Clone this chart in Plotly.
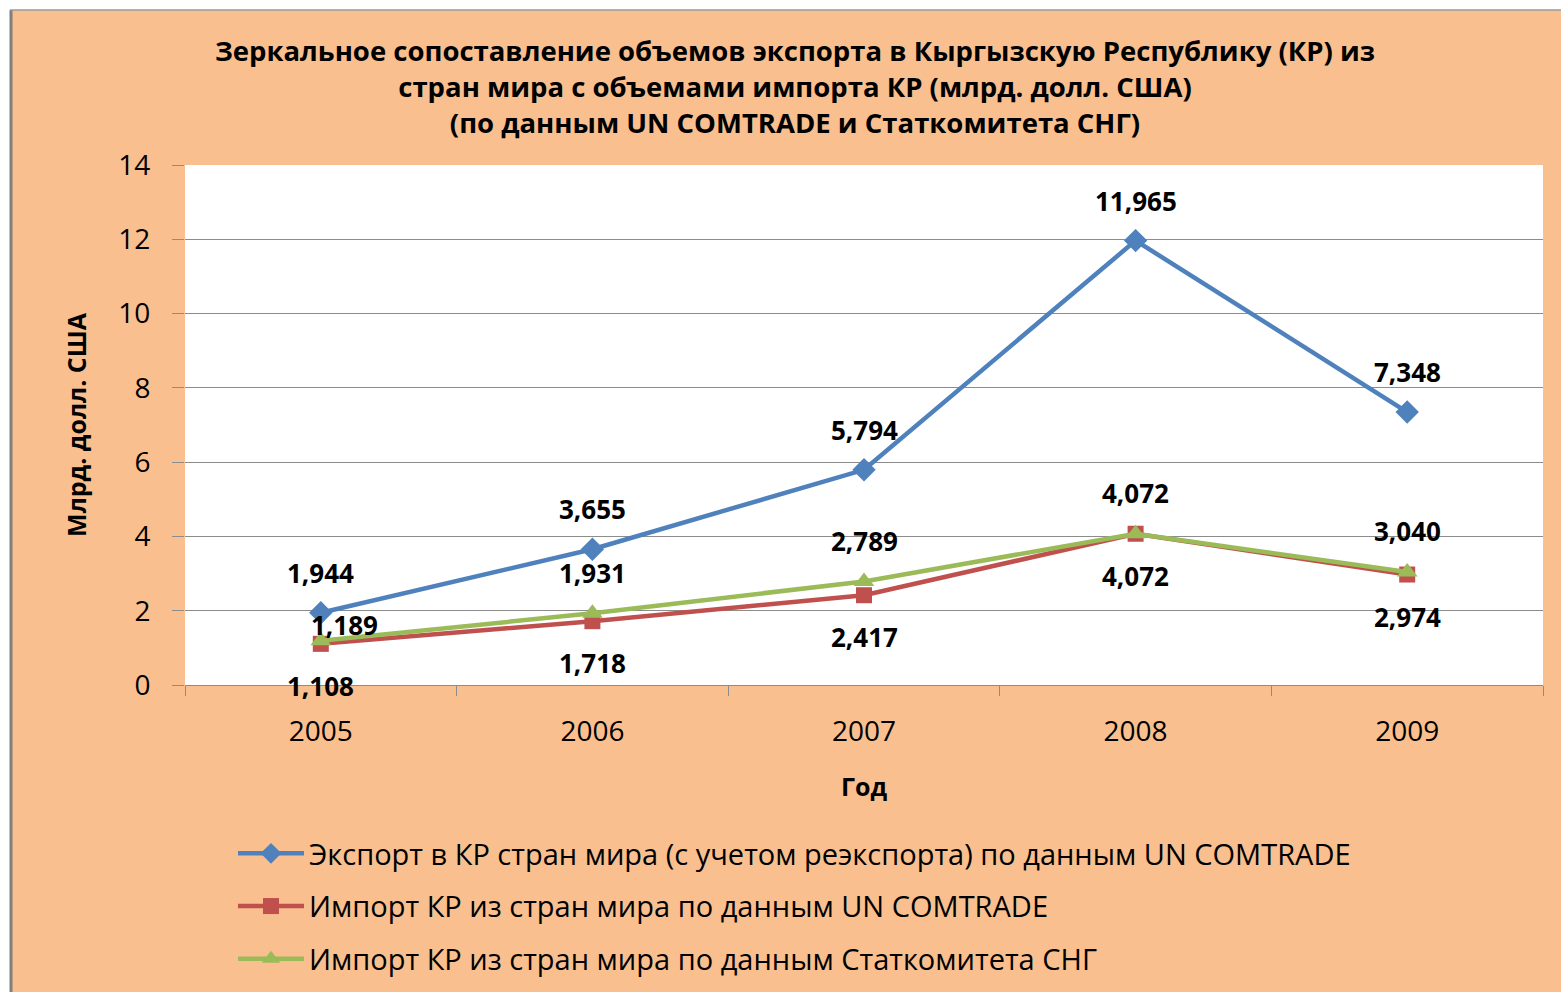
import plotly.graph_objects as go

years = ["2005", "2006", "2007", "2008", "2009"]
export_un = [1.944, 3.655, 5.794, 11.965, 7.348]
import_un = [1.108, 1.718, 2.417, 4.072, 2.974]
import_cis = [1.189, 1.931, 2.789, 4.072, 3.040]
y_ticks = [0, 2, 4, 6, 8, 10, 12, 14]

names = [
    "Экспорт в КР стран мира (с учетом реэкспорта) по данным UN COMTRADE",
    "Импорт КР из стран мира по данным UN COMTRADE",
    "Импорт КР из стран мира по данным Статкомитета СНГ",
]
title_text = ("Зеркальное сопоставление объемов экспорта в Кыргызскую Республику (КР) из<br>"
              "стран мира с объемами импорта КР (млрд. долл. США)<br>"
              "(по данным UN COMTRADE и Статкомитета СНГ)")

BLUE = "#4F81BD"
RED = "#C0504D"
GREEN = "#9BBB59"
BG = "#F9BF8F"
GRID = "#8C8C8C"
FONT = "Open Sans"

W, H = 1561, 992
ML, MR, MT, MB = 185, 18, 165, 307
PW, PH = W - ML - MR, H - MT - MB


def px_x(px):
    return (px - ML) / PW


def px_y(py):
    return (H - MB - py) / PH


fig = go.Figure()
series = [
    (export_un, names[0], BLUE, "diamond", 18),
    (import_un, names[1], RED, "square", 16),
    (import_cis, names[2], GREEN, "triangle-up", 18),
]
for i, (vals, nm, col, sym, sz) in enumerate(series):
    fig.add_trace(go.Scatter(
        x=years, y=vals, name=nm, mode="lines+markers",
        line=dict(color=col, width=4.5),
        marker=dict(symbol=sym, size=sz, color=col),
        legendgroup=f"g{i}",
    ))

# data label offsets in pixels (style only)
label_shift = [
    [(0, 40)] * 5,
    [(0, -42)] * 5,
    [(24, 16), (0, 40), (0, 40), (0, 41), (0, 41)],
]
annotations = []
for i, (vals, nm, col, sym, sz) in enumerate(series):
    for j, v in enumerate(vals):
        dx, dy = label_shift[i][j]
        annotations.append(dict(
            x=j, y=v, xref="x", yref="y",
            text="<b>" + f"{v:.3f}".replace(".", ",") + "</b>", showarrow=False,
            xshift=dx, yshift=dy,
            font=dict(family=FONT, size=26, color="#000000"),
        ))

shapes = [
    dict(type="rect", xref="paper", yref="paper", x0=px_x(0), x1=px_x(W), y0=px_y(0), y1=px_y(10),
         fillcolor="white", line_width=0, layer="below"),
    dict(type="rect", xref="paper", yref="paper", x0=px_x(0), x1=px_x(10), y0=px_y(0), y1=px_y(H),
         fillcolor="white", line_width=0, layer="below"),
    dict(type="line", xref="paper", yref="paper", x0=px_x(11), x1=px_x(11), y0=px_y(10), y1=px_y(H),
         line=dict(color="#7F7F7F", width=3)),
    dict(type="line", xref="paper", yref="paper", x0=px_x(10), x1=px_x(W), y0=px_y(10), y1=px_y(10),
         line=dict(color="#9A9A9A", width=1.5)),
]

fig.update_layout(
    width=W, height=H,
    margin=dict(l=ML, r=MR, t=MT, b=MB, autoexpand=False),
    paper_bgcolor=BG, plot_bgcolor="white",
    font=dict(family=FONT, color="#000000"),
    annotations=annotations,
    shapes=shapes,
    title=dict(text=title_text, x=795 / W, xanchor="center", xref="container",
               y=1 - 61 / H, yanchor="top", yref="container",
               font=dict(family=FONT, size=27.5, color="#000000", weight="bold")),
    showlegend=True,
    legend=dict(orientation="v", x=px_x(233), y=px_y(828), xanchor="left", yanchor="top",
                bgcolor="rgba(0,0,0,0)", font=dict(family=FONT, size=29, color="#000000"),
                tracegroupgap=12, itemwidth=66, traceorder="grouped"),
    xaxis=dict(
        type="category", range=[-0.5, 4.5], tickson="boundaries",
        ticks="outside", ticklen=10, tickcolor=GRID, tickwidth=1,
        showline=True, linecolor=GRID, linewidth=1, showgrid=False,
        tickfont=dict(family=FONT, size=28, color="#000000"),
        ticklabelstandoff=21,
        title=dict(text="Год", standoff=30, font=dict(family=FONT, size=25, weight="bold")),
        fixedrange=True,
    ),
    yaxis=dict(
        range=[0, 14], tickvals=y_ticks, ticktext=[str(t) for t in y_ticks],
        ticks="outside", ticklen=12, tickcolor=GRID, tickwidth=1,
        showline=False, showgrid=True, gridcolor=GRID, gridwidth=1,
        zeroline=False,
        tickfont=dict(family=FONT, size=28, color="#000000"),
        ticklabelstandoff=16,
        title=dict(text="Млрд. долл. США", standoff=24, font=dict(family=FONT, size=25, weight="bold")),
        fixedrange=True,
    ),
)

fig.write_html("out.html", config={"displayModeBar": False},
               post_script="document.body.style.margin='0';")
